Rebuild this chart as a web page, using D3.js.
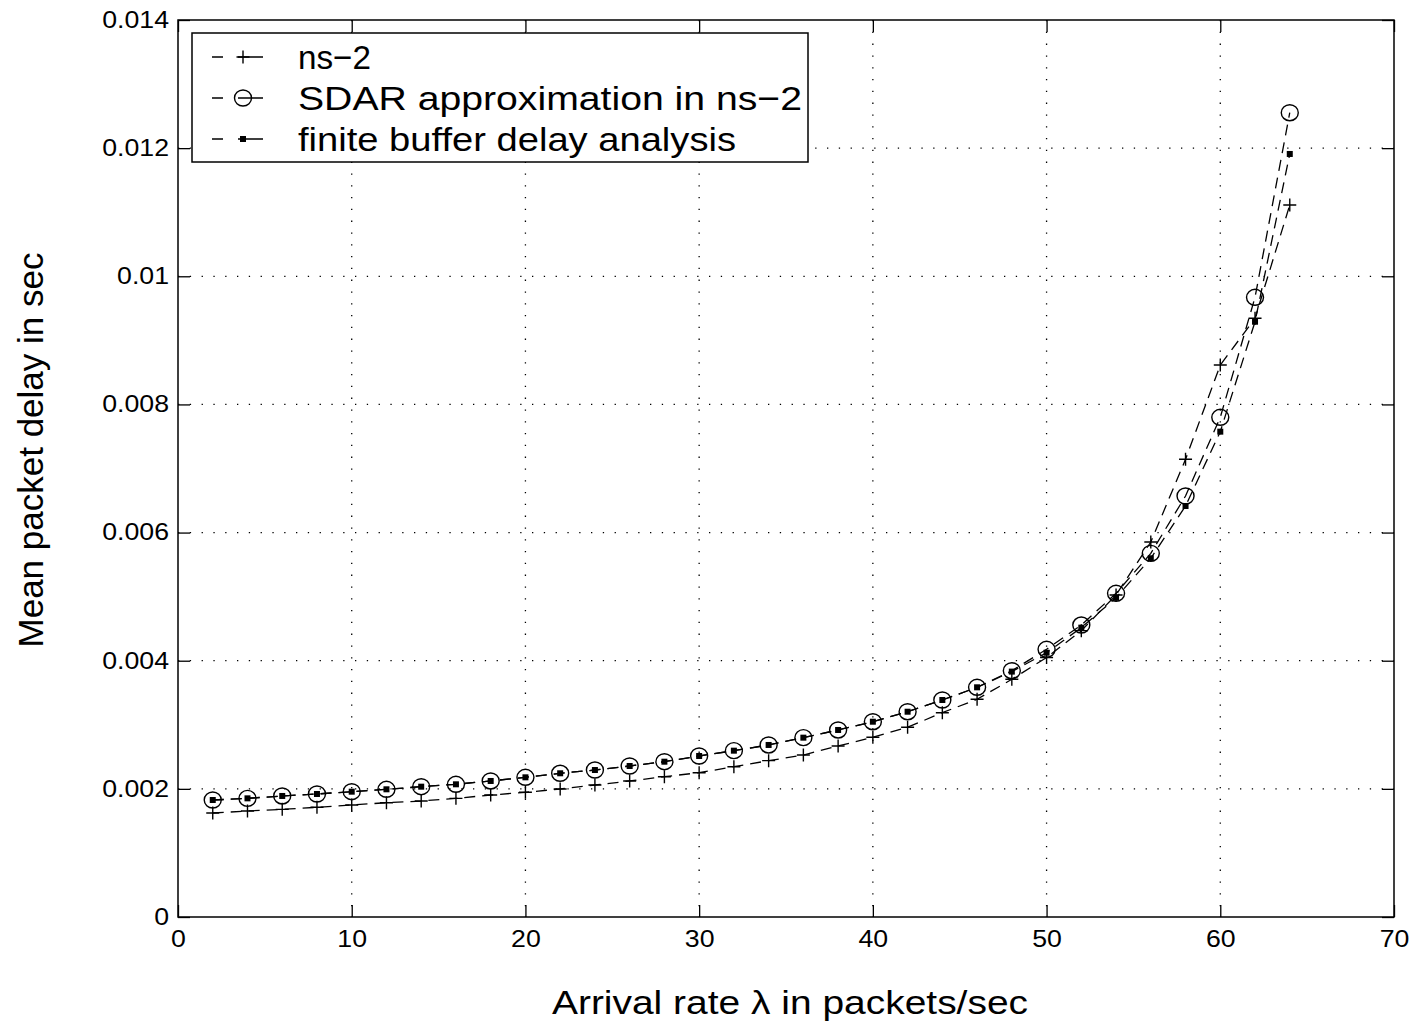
<!DOCTYPE html>
<html>
<head>
<meta charset="utf-8">
<script src="https://cdn.jsdelivr.net/npm/d3@7"></script>
<style>
  body { margin: 0; background: #fff; }
  text { font-family: "Liberation Sans", Arial, sans-serif; fill: #000; }
</style>
</head>
<body>
<div class="graph"></div>
<script>
var rates = [2, 4, 6, 8, 10, 12, 14, 16, 18, 20, 22, 24, 26, 28, 30, 32,
    34, 36, 38, 40, 42, 44, 46, 48, 50, 52, 54, 56, 58, 60, 62, 64];

var ns2 = [0.001623, 0.001654, 0.00168, 0.001712, 0.001748, 0.001784, 0.00181, 0.001852,
    0.001904, 0.001946, 0.001998, 0.00206, 0.002123, 0.00219, 0.002252, 0.002346,
    0.00244, 0.002528, 0.002669, 0.002805, 0.002961, 0.003189, 0.003398, 0.00371,
    0.004050, 0.004469, 0.005026, 0.005853, 0.007144, 0.008615, 0.009344, 0.011113];

var sdar = [0.001826, 0.001852, 0.001889, 0.00192, 0.001956, 0.001993, 0.002034, 0.002071,
    0.002123, 0.00218, 0.002243, 0.002294, 0.002357, 0.002424, 0.002513, 0.002596,
    0.002685, 0.002799, 0.002919, 0.003048, 0.003204, 0.003387, 0.003585, 0.003844,
    0.004178, 0.004557, 0.005052, 0.005676, 0.006571, 0.007799, 0.009672, 0.012553];

var finite = [0.001826, 0.001852, 0.001889, 0.00192, 0.001956, 0.001993, 0.002034, 0.002071,
    0.002123, 0.00218, 0.002243, 0.002294, 0.002357, 0.002424, 0.002513, 0.002596,
    0.002685, 0.002799, 0.002919, 0.003048, 0.003204, 0.003387, 0.003585, 0.003830,
    0.004125, 0.004516, 0.004984, 0.005599, 0.006415, 0.007575, 0.009291, 0.011909];

var xTicks = [0, 10, 20, 30, 40, 50, 60, 70];
var yTicks = [0, 0.002, 0.004, 0.006, 0.008, 0.01, 0.012, 0.014];
var yTickLabels = ["0", "0.002", "0.004", "0.006", "0.008", "0.01", "0.012", "0.014"];
var legendLabels = ["ns\u22122", "SDAR approximation in ns\u22122", "finite buffer delay analysis"];

var W = 1414, H = 1026;
var margin = {top: 20, right: 20, bottom: 109, left: 178},
    width = 1394 - margin.left,
    height = 917 - margin.top;

// the reference glyphs are a bit wider than Liberation Sans, so widen them
function stretch(sel, k) {
    sel.each(function() {
        var w = this.getComputedTextLength();
        d3.select(this)
            .attr("textLength", w * k)
            .attr("lengthAdjust", "spacingAndGlyphs");
    });
}

var svg = d3.select(".graph")
    .append("svg")
    .attr("width", W)
    .attr("height", H);

var g = svg.append("g")
    .attr("transform", "translate(" + margin.left + "," + margin.top + ")");

var x = d3.scaleLinear().domain([0, 70]).range([0, width]);
var y = d3.scaleLinear().domain([0, 0.014]).range([height, 0]);

// dotted grid
g.selectAll(".vgrid")
    .data(xTicks.slice(1, -1))
    .enter().append("line")
    .attr("x1", d => x(d)).attr("x2", d => x(d))
    .attr("y1", 0).attr("y2", height)
    .attr("stroke", "#000").attr("stroke-width", 1.3)
    .attr("stroke-dasharray", "1.3,10.5");

g.selectAll(".hgrid")
    .data(yTicks.slice(1, -1))
    .enter().append("line")
    .attr("y1", d => y(d)).attr("y2", d => y(d))
    .attr("x1", 0).attr("x2", width)
    .attr("stroke", "#000").attr("stroke-width", 1.3)
    .attr("stroke-dasharray", "1.3,10.5");

// axes with inward ticks, on all four sides
var tickLen = 12;
g.append("g")
    .attr("class", "xaxis")
    .attr("transform", "translate(0," + height + ")")
    .call(d3.axisBottom(x).tickValues(xTicks).tickSizeInner(-tickLen).tickSizeOuter(0).tickPadding(14))
    .call(a => a.select(".domain").remove());
g.append("g")
    .call(d3.axisTop(x).tickValues(xTicks).tickSizeInner(-tickLen).tickSizeOuter(0).tickFormat(""))
    .call(a => a.select(".domain").remove());
g.append("g")
    .attr("class", "yaxis")
    .call(d3.axisLeft(y).tickValues(yTicks).tickSizeInner(-tickLen).tickSizeOuter(0).tickPadding(9)
        .tickFormat((d, i) => yTickLabels[i]))
    .call(a => a.select(".domain").remove());
g.append("g")
    .attr("transform", "translate(" + width + ",0)")
    .call(d3.axisRight(y).tickValues(yTicks).tickSizeInner(-tickLen).tickSizeOuter(0).tickFormat(""))
    .call(a => a.select(".domain").remove());

g.selectAll(".tick line").attr("stroke", "#000").attr("stroke-width", 1.3);
g.selectAll(".tick text")
    .style("font-family", "'Liberation Sans', Arial, sans-serif")
    .style("font-size", "23px")
    .attr("fill", "#000")
    .call(stretch, 1.16);

g.append("rect")
    .attr("width", width).attr("height", height)
    .attr("fill", "none").attr("stroke", "#000").attr("stroke-width", 1.5);

// series
var series = [
    {name: "ns2", values: ns2, marker: "plus"},
    {name: "sdar", values: sdar, marker: "circle"},
    {name: "finite", values: finite, marker: "square"}
];

var line = d3.line()
    .x((d, i) => x(rates[i]))
    .y(d => y(d));

function drawMarker(sel, type) {
    if (type === "plus") {
        sel.append("path")
            .attr("d", "M-6.5,0H6.5M0,-6.5V6.5")
            .attr("stroke", "#000").attr("stroke-width", 1.4).attr("fill", "none");
    } else if (type === "circle") {
        sel.append("ellipse")
            .attr("rx", 8.5).attr("ry", 8)
            .attr("stroke", "#000").attr("stroke-width", 1.4).attr("fill", "none");
    } else {
        sel.append("rect")
            .attr("x", -3).attr("y", -3).attr("width", 6).attr("height", 6)
            .attr("fill", "#000");
    }
}

series.forEach(function(s) {
    g.append("path")
        .datum(s.values)
        .attr("d", line)
        .attr("fill", "none")
        .attr("stroke", "#000")
        .attr("stroke-width", 1.3)
        .attr("stroke-dasharray", "11,7");

    g.selectAll(".m-" + s.name)
        .data(s.values)
        .enter().append("g")
        .attr("class", "m-" + s.name)
        .attr("transform", (d, i) => "translate(" + x(rates[i]) + "," + y(d) + ")")
        .each(function() { drawMarker(d3.select(this), s.marker); });
});

// legend
var legend = svg.append("g").attr("transform", "translate(192,33)");
legend.append("rect")
    .attr("width", 616).attr("height", 129)
    .attr("fill", "#fff").attr("stroke", "#000").attr("stroke-width", 1.5);

var legendWidths = [73, 504, 438];
series.forEach(function(s, i) {
    var cy = 24 + i * 41;
    legend.append("line")
        .attr("x1", 20).attr("x2", 71)
        .attr("y1", cy).attr("y2", cy)
        .attr("stroke", "#000").attr("stroke-width", 1.3)
        .attr("stroke-dasharray", "11,15,25");
    var m = legend.append("g").attr("transform", "translate(51," + cy + ")");
    drawMarker(m, s.marker);
    legend.append("text")
        .attr("x", 106).attr("y", cy + 12)
        .style("font-size", "34px")
        .attr("textLength", legendWidths[i])
        .attr("lengthAdjust", "spacingAndGlyphs")
        .text(legendLabels[i]);
});

// axis titles
svg.append("text")
    .attr("x", 790).attr("y", 1014)
    .attr("text-anchor", "middle")
    .style("font-size", "33px")
    .text("Arrival rate \u03bb in packets/sec")
    .call(stretch, 1.18);

svg.append("text")
    .attr("transform", "translate(43,450) rotate(-90)")
    .attr("text-anchor", "middle")
    .style("font-size", "35px")
    .text("Mean packet delay in sec");
</script>
</body>
</html>
